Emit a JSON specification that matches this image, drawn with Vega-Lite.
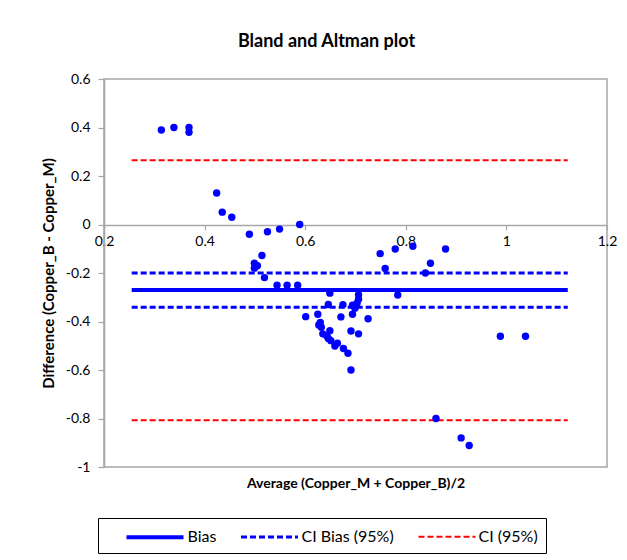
{
  "$schema": "https://vega.github.io/schema/vega-lite/v6.json",
  "width": 503,
  "height": 388,
  "autosize": {"type": "none"},
  "padding": {"left": 104, "top": 79, "right": 20, "bottom": 93},
  "background": "white",
  "title": {
    "text": "Bland and Altman plot",
    "font": "Lato",
    "fontSize": 18,
    "fontWeight": "bold",
    "color": "black",
    "anchor": "middle",
    "frame": "group",
    "dx": -29,
    "offset": 21
  },
  "config": {
    "view": {"stroke": "#a6a6a6", "strokeWidth": 1.5},
    "axis": {
      "grid": false,
      "domainColor": "#a6a6a6",
      "domainWidth": 1.5,
      "tickColor": "#a6a6a6",
      "tickWidth": 1.2,
      "labelFont": "Lato",
      "labelFontSize": 14,
      "labelColor": "black",
      "titleFont": "Lato",
      "titleFontSize": 14,
      "titleFontWeight": "bold",
      "titleColor": "black"
    }
  },
  "datasets": {
    "lines": [
      {"series": "Bias", "xs": 0.255, "xe": 1.122, "lvl": -0.27},
      {"series": "CI Bias (95%)", "xs": 0.255, "xe": 1.122, "lvl": -0.2},
      {"series": "CI Bias (95%)", "xs": 0.255, "xe": 1.122, "lvl": -0.341},
      {"series": "CI (95%)", "xs": 0.255, "xe": 1.122, "lvl": 0.265},
      {"series": "CI (95%)", "xs": 0.255, "xe": 1.122, "lvl": -0.807}
    ],
    "points": [
      {"avg": 0.314, "diff": 0.39},
      {"avg": 0.339, "diff": 0.4},
      {"avg": 0.369, "diff": 0.4},
      {"avg": 0.369, "diff": 0.38},
      {"avg": 0.424, "diff": 0.13},
      {"avg": 0.435, "diff": 0.051},
      {"avg": 0.454, "diff": 0.03},
      {"avg": 0.489, "diff": -0.04},
      {"avg": 0.525, "diff": -0.03},
      {"avg": 0.549, "diff": -0.019},
      {"avg": 0.589, "diff": 0.0},
      {"avg": 0.514, "diff": -0.128},
      {"avg": 0.499, "diff": -0.16},
      {"avg": 0.505, "diff": -0.17},
      {"avg": 0.499, "diff": -0.18},
      {"avg": 0.519, "diff": -0.219},
      {"avg": 0.544, "diff": -0.25},
      {"avg": 0.564, "diff": -0.25},
      {"avg": 0.585, "diff": -0.25},
      {"avg": 0.649, "diff": -0.283},
      {"avg": 0.646, "diff": -0.33},
      {"avg": 0.675, "diff": -0.331},
      {"avg": 0.749, "diff": -0.12},
      {"avg": 0.779, "diff": -0.101},
      {"avg": 0.814, "diff": -0.09},
      {"avg": 0.879, "diff": -0.101},
      {"avg": 0.759, "diff": -0.181},
      {"avg": 0.849, "diff": -0.16},
      {"avg": 0.839, "diff": -0.2},
      {"avg": 0.784, "diff": -0.291},
      {"avg": 0.706, "diff": -0.29},
      {"avg": 0.706, "diff": -0.308},
      {"avg": 0.703, "diff": -0.325},
      {"avg": 0.699, "diff": -0.345},
      {"avg": 0.694, "diff": -0.333},
      {"avg": 0.694, "diff": -0.37},
      {"avg": 0.671, "diff": -0.381},
      {"avg": 0.725, "diff": -0.389},
      {"avg": 0.601, "diff": -0.38},
      {"avg": 0.625, "diff": -0.37},
      {"avg": 0.63, "diff": -0.404},
      {"avg": 0.627, "diff": -0.414},
      {"avg": 0.632, "diff": -0.424},
      {"avg": 0.649, "diff": -0.438},
      {"avg": 0.635, "diff": -0.451},
      {"avg": 0.643, "diff": -0.46},
      {"avg": 0.646, "diff": -0.47},
      {"avg": 0.651, "diff": -0.479},
      {"avg": 0.664, "diff": -0.49},
      {"avg": 0.659, "diff": -0.501},
      {"avg": 0.676, "diff": -0.511},
      {"avg": 0.685, "diff": -0.531},
      {"avg": 0.691, "diff": -0.439},
      {"avg": 0.706, "diff": -0.451},
      {"avg": 0.691, "diff": -0.6},
      {"avg": 0.988, "diff": -0.461},
      {"avg": 1.038, "diff": -0.461},
      {"avg": 0.86, "diff": -0.8},
      {"avg": 0.91, "diff": -0.88},
      {"avg": 0.926, "diff": -0.911}
    ]
  },
  "layer": [
    {
      "data": {"name": "lines"},
      "mark": {"type": "rule"},
      "encoding": {
        "x": {
          "field": "xs",
          "type": "quantitative",
          "scale": {"domain": [0.2, 1.2], "nice": false, "zero": false},
          "axis": {
            "values": [0.2, 0.4, 0.6, 0.8, 1, 1.2],
            "labelExpr": "'' + round(datum.value * 10) / 10",
            "offset": -242,
            "labelFlush": false,
            "tickSize": 5,
            "labelPadding": 4,
            "title": "Average (Copper_M + Copper_B)/2",
            "titleY": 258,
            "titleBaseline": "middle"
          }
        },
        "x2": {"field": "xe"},
        "y": {
          "field": "lvl",
          "type": "quantitative",
          "scale": {"domain": [-1, 0.6], "nice": false, "zero": false},
          "axis": {
            "values": [-1, -0.8, -0.6, -0.4, -0.2, 0, 0.2, 0.4, 0.6],
            "labelExpr": "'' + round(datum.value * 10) / 10",
            "tickSize": 6,
            "labelPadding": 8,
            "title": "Difference (Copper_B - Copper_M)",
            "titleFontSize": 15,
            "titleX": -56,
            "titleBaseline": "middle"
          }
        },
        "color": {
          "field": "series",
          "type": "nominal",
          "scale": {"domain": ["Bias", "CI Bias (95%)", "CI (95%)"], "range": ["#0000FF", "#0000FF", "#FF0000"]},
          "legend": {
            "orient": "none",
            "legendX": -6,
            "legendY": 439,
            "direction": "horizontal",
            "title": null,
            "symbolType": "M1,0H7",
            "symbolSize": 361,
            "labelFont": "Lato",
            "labelFontSize": 16,
            "labelColor": "black",
            "labelOffset": 59,
            "columnPadding": 4,
            "strokeColor": "black",
            "padding": 7.5
          }
        },
        "strokeDash": {
          "field": "series",
          "type": "nominal",
          "scale": {"domain": ["Bias", "CI Bias (95%)", "CI (95%)"], "range": [[1, 0], [6, 3], [6, 3]]}
        },
        "strokeWidth": {
          "field": "series",
          "type": "nominal",
          "scale": {"domain": ["Bias", "CI Bias (95%)", "CI (95%)"], "range": [4, 2, 2]}
        }
      }
    },
    {
      "data": {"name": "points"},
      "mark": {"type": "circle", "color": "#0000FF", "size": 55, "opacity": 1},
      "encoding": {
        "x": {"field": "avg", "type": "quantitative"},
        "y": {"field": "diff", "type": "quantitative"}
      }
    }
  ]
}
